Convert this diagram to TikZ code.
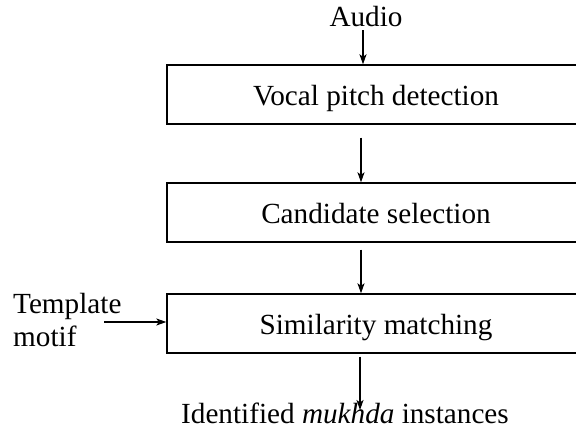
\documentclass[tikz,border=0pt]{standalone}
\usepackage{fontspec}
\setmainfont{Liberation Serif}
\usetikzlibrary{arrows.meta}
\begin{document}
\begin{tikzpicture}[x=1pt,y=-1pt,
  every node/.style={font=\fontsize{29.2}{33}\selectfont},
  stagebox/.style={draw, line width=1.4pt, minimum width=418pt, minimum height=59pt,
    inner sep=0pt, text height=23pt, text depth=0pt},
  flow/.style={-{Stealth[length=10pt,width=7pt,inset=2.5pt]}, line width=1.1pt},
  label/.style={inner sep=0pt}]
  \useasboundingbox (0,0) rectangle (576,430);
  \clip (0,0) rectangle (576,430);

  % processing stages
  \node[stagebox] (b1) at (376,94.5) {Vocal pitch detection};
  \node[stagebox] (b2) at (376,212.5) {Candidate selection};
  \node[stagebox] (b3) at (376,323.5) {Similarity matching};

  % input and output labels
  \node[label, anchor=base] (audio) at (366,27) {Audio};
  \node[label, anchor=base] (out) at (345,424) {Identified \textit{mukhda} instances};
  \node[label, anchor=west, align=left] (tmpl) at (13,320) {Template\\motif};

  % connectors
  \coordinate (ax) at (361,0);
  \coordinate (tin) at (104,322);
  \coordinate (oend) at (360,410);
  \draw[flow] (audio.south -| 363,0) ++(0,3) -- (b1.north -| 363,0);
  \draw[flow, shorten <=13pt] (b1.south -| ax) -- (b2.north -| ax);
  \draw[flow, shorten <=7pt] (b2.south -| ax) -- (b3.north -| ax);
  \draw[flow, shorten <=3pt] (b3.south -| oend) -- (oend);
  \draw[flow] (tin) -- (b3.west |- tin);
\end{tikzpicture}
\end{document}
